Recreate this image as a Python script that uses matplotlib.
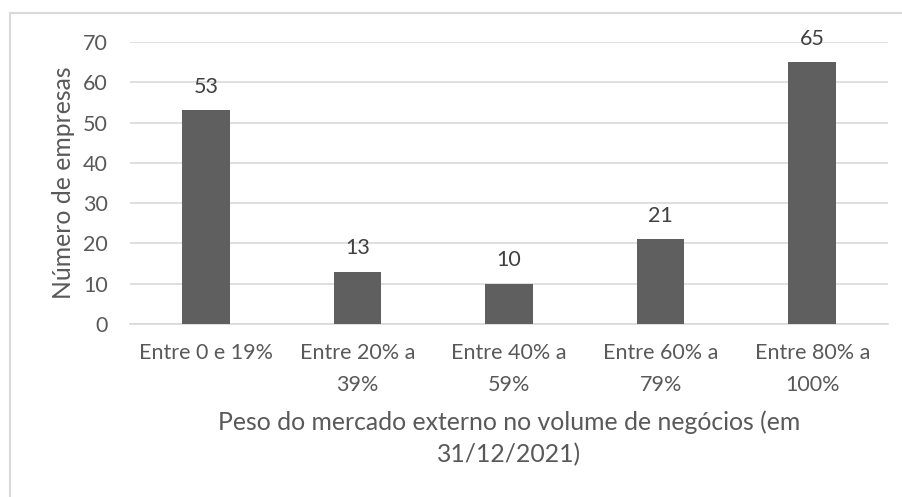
import matplotlib
matplotlib.use("Agg")
import matplotlib.pyplot as plt
from matplotlib.patches import Rectangle

plt.rcParams['font.family'] = ['Lato', 'DejaVu Sans']

categorias = ["Entre 0 e 19%", "Entre 20% a\n39%", "Entre 40% a\n59%",
              "Entre 60% a\n79%", "Entre 80% a\n100%"]
empresas = [53, 13, 10, 21, 65]
yticks = [0, 10, 20, 30, 40, 50, 60, 70]

cinza_txt = "#595959"
cinza_barra = "#5f5f5f"
cinza_grelha = "#d9d9d9"

fig = plt.figure(figsize=(9.03, 4.97), dpi=100)

# moldura do grafico (como no Excel)
fig.patches.append(Rectangle((10 / 903, -0.01), 1.0, (497 - 13) / 497 + 0.01,
                             transform=fig.transFigure, fill=False,
                             edgecolor=cinza_grelha, linewidth=1.5))

ax = fig.add_axes([130 / 903, 173 / 497, 758 / 903, 282 / 497])
x = range(len(categorias))
barras = ax.bar(x, empresas, width=0.315, color=cinza_barra, zorder=3)
for b, v in zip(barras, empresas):
    ax.annotate(str(v), (b.get_x() + b.get_width() / 2, v), xytext=(0, 17),
                textcoords="offset points", ha="center", va="center",
                fontsize=15.5, color="#404040")

ax.set_xlim(-0.5, len(categorias) - 0.5)
ax.set_ylim(0, 70)
ax.set_yticks(yticks)
ax.set_xticks(list(x))
ax.set_xticklabels(categorias, fontsize=15.5, color=cinza_txt, linespacing=1.7)
ax.tick_params(axis="y", labelsize=15.5, labelcolor=cinza_txt, length=0, pad=16)
ax.tick_params(axis="x", length=0, pad=14)
ax.grid(axis="y", color=cinza_grelha, linewidth=1.2, zorder=0)
for s in ["top", "right", "left"]:
    ax.spines[s].set_visible(False)
ax.spines["bottom"].set_color(cinza_grelha)
ax.spines["bottom"].set_linewidth(1.2)

ax.set_xlabel("Peso do mercado externo no volume de negócios (em\n31/12/2021)",
              fontsize=17.8, color=cinza_txt, labelpad=11, linespacing=1.5)
ax.set_ylabel("Número de empresas", fontsize=17.8, color=cinza_txt, labelpad=6)

fig.savefig("out.png", dpi=100)
